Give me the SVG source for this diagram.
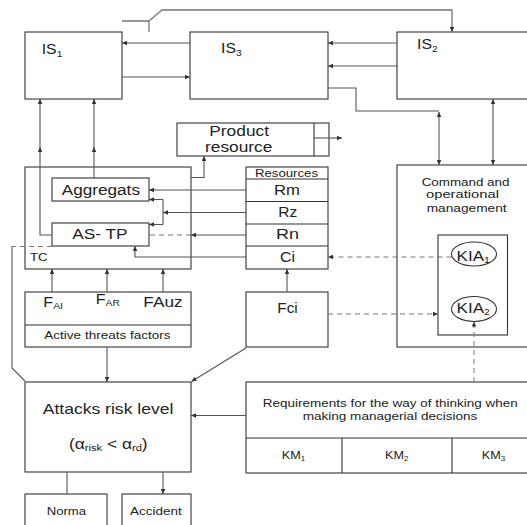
<svg xmlns="http://www.w3.org/2000/svg" width="527" height="525" viewBox="0 0 527 525">
  <defs>
    <marker id="arr" viewBox="0 0 10 10" refX="10" refY="5" markerWidth="5" markerHeight="5" markerUnits="userSpaceOnUse" orient="auto-start-reverse">
      <path d="M0,0.5 L10,5 L0,9.5 z" fill="#333"/>
    </marker>
  </defs>
  <style>
    .box{fill:#fff;stroke:#333;stroke-width:1.1}
    .sep{fill:none;stroke:#333;stroke-width:1.1}
    .ln{fill:none;stroke:#555;stroke-width:1.1}
    .sw{fill:none;stroke:#777;stroke-width:1.3}
    .dash{fill:none;stroke:#777;stroke-width:1;stroke-dasharray:5,4}
    .a{marker-end:url(#arr)}
    .aa{marker-start:url(#arr);marker-end:url(#arr)}
    text{font-family:"Liberation Sans",Arial,Helvetica,sans-serif;fill:#222}
    .t14{font-size:14px}
    .t11{font-size:11px}
    .t15{font-size:15px}
  </style>
  <rect width="527" height="525" fill="#fff"/>

  <!-- information systems -->
  <g id="is1">
    <rect class="box" x="25" y="32" width="97" height="67"/>
    <text class="t14" transform="translate(41.7,54) scale(1.13,1)">IS<tspan font-size="9" dy="3">1</tspan></text>
  </g>
  <g id="is3">
    <rect class="box" x="190" y="32" width="138" height="67"/>
    <text class="t14" transform="translate(221,53) scale(1.13,1)">IS<tspan font-size="9" dy="3">3</tspan></text>
  </g>
  <g id="is2">
    <rect class="box" x="397" y="32" width="140" height="67"/>
    <text class="t14" transform="translate(417,49) scale(1.13,1)">IS<tspan font-size="9" dy="3">2</tspan></text>
  </g>

  <g id="product">
    <rect class="box" x="177" y="123" width="152" height="33"/>
    <line class="sep" x1="314" y1="123" x2="314" y2="156"/>
    <text class="t14" x="209.3" y="136" textLength="59.7" lengthAdjust="spacingAndGlyphs">Product</text>
    <text class="t14" x="205" y="152.3" textLength="67.3" lengthAdjust="spacingAndGlyphs">resource</text>
  </g>

  <g id="tc">
    <rect class="box" x="25" y="167" width="166" height="102"/>
    <text class="t11" x="30" y="260.7" textLength="17.7" lengthAdjust="spacingAndGlyphs">TC</text>
  </g>
  <g id="aggregats">
    <rect class="box" x="52" y="178" width="97" height="23"/>
    <text class="t14" x="61.7" y="195" textLength="78.3" lengthAdjust="spacingAndGlyphs">Aggregats</text>
  </g>
  <g id="as-tp">
    <rect class="box" x="52" y="223" width="97" height="23"/>
    <text class="t14" x="72.3" y="239" textLength="55.3" lengthAdjust="spacingAndGlyphs">AS- TP</text>
  </g>

  <g id="resources">
    <rect class="box" x="246" y="167" width="82" height="102"/>
    <path class="sep" d="M246,179 H328 M246,201.5 H328 M246,224 H328 M246,246 H328"/>
    <text class="t11" x="255" y="176.5" textLength="63" lengthAdjust="spacingAndGlyphs">Resources</text>
    <text class="t14" x="274" y="195" textLength="26" lengthAdjust="spacingAndGlyphs">Rm</text>
    <text class="t14" x="278.3" y="217.3" textLength="19" lengthAdjust="spacingAndGlyphs">Rz</text>
    <text class="t14" x="276" y="239.3" textLength="23" lengthAdjust="spacingAndGlyphs">Rn</text>
    <text class="t14" x="280" y="261.7" textLength="15" lengthAdjust="spacingAndGlyphs">Ci</text>
  </g>

  <g id="threat-factors">
    <rect class="box" x="25" y="292" width="166" height="55"/>
    <line class="sep" x1="25" y1="325" x2="191" y2="325"/>
    <text class="t14" transform="translate(43.3,306.7) scale(1.15,1)">F<tspan font-size="9" dy="2">AI</tspan></text>
    <text class="t14" transform="translate(95.7,304) scale(1.15,1)">F<tspan font-size="9" dy="2">AR</tspan></text>
    <text class="t14" x="143.3" y="306.7" textLength="39.3" lengthAdjust="spacingAndGlyphs">FAuz</text>
    <text class="t11" x="44.3" y="339" textLength="126.3" lengthAdjust="spacingAndGlyphs">Active threats factors</text>
  </g>

  <g id="fci">
    <rect class="box" x="246" y="292" width="82" height="55"/>
    <text class="t14" x="277.3" y="313.3" textLength="20.4" lengthAdjust="spacingAndGlyphs">Fci</text>
  </g>

  <g id="command">
    <rect class="box" x="397" y="165" width="140" height="182"/>
    <text class="t11" x="421.7" y="186" textLength="87.7" lengthAdjust="spacingAndGlyphs">Command and</text>
    <text class="t11" x="426" y="198.3" textLength="73" lengthAdjust="spacingAndGlyphs">operational</text>
    <text class="t11" x="426.7" y="211.7" textLength="80" lengthAdjust="spacingAndGlyphs">management</text>
  </g>
  <g id="kia-group">
    <rect class="box" x="438" y="235" width="69.5" height="100"/>
  </g>
  <g id="kia1">
    <ellipse class="box" cx="474" cy="254" rx="22.5" ry="12"/>
    <text class="t14" transform="translate(456.5,261) scale(1.22,1)">KIA<tspan font-size="8.5" dy="2">1</tspan></text>
  </g>
  <g id="kia2">
    <ellipse class="box" cx="474" cy="309" rx="22.5" ry="12.5"/>
    <text class="t14" transform="translate(456.5,312.5) scale(1.22,1)">KIA<tspan font-size="8.5" dy="2">2</tspan></text>
  </g>

  <g id="attacks">
    <rect class="box" x="25" y="382" width="166" height="90"/>
    <text class="t15" x="42.7" y="414" textLength="130.7" lengthAdjust="spacingAndGlyphs">Attacks risk level</text>
    <text class="t14" transform="translate(69,449.3) scale(1.24,1)">(α<tspan font-size="9" dy="2">risk</tspan><tspan dy="-2"> &lt; α</tspan><tspan font-size="9" dy="2">rd</tspan><tspan dy="-2">)</tspan></text>
  </g>

  <g id="requirements">
    <rect class="box" x="246" y="382" width="290" height="91"/>
    <path class="sep" d="M246,438 H536 M342,438 V473 M452,438 V473"/>
    <text class="t11" x="262.7" y="406.7" textLength="255" lengthAdjust="spacingAndGlyphs">Requirements for the way of thinking when</text>
    <text class="t11" x="302.7" y="420" textLength="174.7" lengthAdjust="spacingAndGlyphs">making managerial decisions</text>
    <text class="t11" transform="translate(281.7,459.3) scale(1.15,1)">KM<tspan font-size="7" dy="2">1</tspan></text>
    <text class="t11" transform="translate(385,459.3) scale(1.15,1)">KM<tspan font-size="7" dy="2">2</tspan></text>
    <text class="t11" transform="translate(481.7,459.3) scale(1.15,1)">KM<tspan font-size="7" dy="2">3</tspan></text>
  </g>

  <g id="norma">
    <rect class="box" x="25" y="494" width="82" height="40"/>
    <text class="t11" x="46.7" y="515.3" textLength="39.3" lengthAdjust="spacingAndGlyphs">Norma</text>
  </g>
  <g id="accident">
    <rect class="box" x="122" y="494" width="69" height="40"/>
    <text class="t11" x="130" y="515.3" textLength="51.7" lengthAdjust="spacingAndGlyphs">Accident</text>
  </g>

  <!-- connectors -->
  <g id="connectors">
    <path class="ln a" d="M190,43 H122"/>
    <path class="ln a" d="M122,77 H190"/>
    <path class="ln a" d="M397,43 H328"/>
    <path class="ln a" d="M397,66 H328"/>
    <path class="sw" d="M122,21 H149 V32"/>
    <path class="sw a" d="M149,21 L162,10 H452 V32"/>
    <path class="ln" d="M328,88 H356 V111 H439"/>
    <path class="ln aa" d="M439,112 V165"/>
    <path class="ln aa" d="M493,99 V165"/>
    <path class="ln a" d="M94,178 V147"/>
    <path class="ln a" d="M94,148 V99"/>
    <path class="ln a" d="M52,235 H40 V147"/>
    <path class="ln a" d="M40,148 V99"/>
    <path class="ln a" d="M191,177.5 H204 V156"/>
    <path class="ln a" d="M314,138 H342"/>
    <path class="ln a" d="M246,190 H149"/>
    <path class="ln a" d="M246,212.5 H163"/>
    <path class="ln" d="M163,199.5 V224.5"/>
    <path class="ln a" d="M163,199.5 H149"/>
    <path class="ln a" d="M163,224.5 H149"/>
    <path class="ln a" d="M246,235 H191"/>
    <path class="dash" d="M191,235 H149"/>
    <path class="ln a" d="M246,257 H135 V246"/>
    <path class="dash" d="M52,246.5 H12"/>
    <path class="ln" d="M12,246.5 V368 L25,381"/>
    <path class="ln a" d="M52,292 V269"/>
    <path class="ln a" d="M107,292 V269"/>
    <path class="ln a" d="M163,292 V269"/>
    <path class="ln a" d="M287,292 V269"/>
    <path class="dash a" d="M328,314 H438"/>
    <path class="dash a" d="M451.5,257 H328"/>
    <path class="dash a" d="M474,382 V321.5"/>
    <path class="ln a" d="M107,347 V382"/>
    <path class="ln a" d="M246,348 L191.5,381.5"/>
    <path class="ln a" d="M246,415.5 H191"/>
    <path class="ln" d="M67,472 V494"/>
    <path class="ln a" d="M163,472 V494"/>
  </g>
</svg>
